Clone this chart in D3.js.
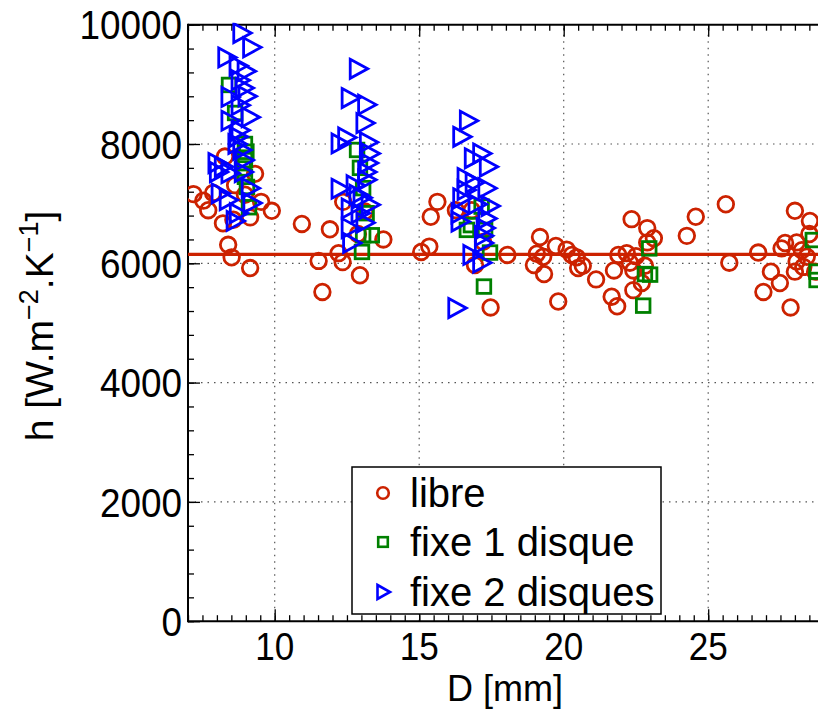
<!DOCTYPE html>
<html><head><meta charset="utf-8">
<script src="https://cdn.jsdelivr.net/npm/d3@7"></script>
<style>body{margin:0;background:#fff;} svg{display:block;}</style>
</head><body>
<svg id="chart" width="818" height="709"></svg>
<script>
// ---- data ----
const libreD = [7.19,7.53,7.70,8.28,9.32,8.63,8.21,8.57,9.15,9.53,9.90,8.39,8.51,9.15,10.94,11.91,11.52,11.65,12.21,12.35,12.95,12.37,13.12,13.76,15.07,15.35,15.63,15.40,16.27,16.93,17.47,18.05,19.18,19.07,19.29,18.97,19.32,19.73,20.10,20.28,20.45,20.50,20.66,19.81,21.12,21.66,21.85,21.74,21.89,22.18,22.50,22.29,22.35,22.89,23.12,22.89,22.81,22.41,22.70,22.41,24.26,24.57,25.61,25.73,26.73,28.00,28.52,28.50,27.54,27.66,28.06,28.24,27.17,27.48,26.91,27.85,28.00,28.06,28.29,28.41,28.70,8.97,7.87,12.88,17.21,16.82];
const libreH = [7160,7050,6890,7790,7500,7310,6670,6730,6770,7030,6880,6310,6100,5920,6660,6570,6040,5520,6170,6020,5800,7030,6870,6400,6190,6280,7030,6780,6890,5970,5260,6140,6440,6160,6110,5970,5820,6290,6230,6140,6100,5920,5960,5360,5730,5440,5280,5880,6140,6170,6120,6010,6740,6590,6420,6350,5960,5880,5670,5550,6460,6780,6990,6010,6180,6880,6710,6490,6250,6340,6350,6220,5860,5670,5520,5260,5860,6030,5940,6110,5860,7150,7180,6490,6360,6890];
const fixe1D = [8.42,8.63,8.97,9.02,8.97,8.92,8.97,9.04,9.11,12.85,12.95,13.06,13.18,13.06,13.36,13.02,16.65,16.79,17.16,17.28,17.45,17.24,22.96,22.81,22.99,22.75,28.62,28.75,28.75];
const fixe1H = [8990,8520,8000,7870,7730,7590,7450,7280,6940,7900,7600,7260,6840,6470,6470,6190,6560,6640,6950,6560,6180,5610,6250,5820,5810,5290,6390,5860,5720];
const fixe2D = [8.86,9.20,8.34,8.73,9.01,8.80,8.94,9.04,8.45,8.80,9.15,8.45,8.80,8.73,8.69,8.86,8.00,8.22,8.45,8.91,8.05,8.11,9.15,8.39,9.21,8.74,8.63,8.94,
  12.89,12.61,13.18,13.12,12.49,12.26,13.24,13.30,13.24,13.18,13.18,12.26,12.88,13.30,12.61,12.95,13.12,12.61,12.66,12.78,13.02,
  16.70,16.47,17.16,16.87,17.39,16.62,16.90,17.34,16.62,16.47,17.45,17.00,16.41,17.34,16.41,17.28,17.22,17.22,16.82,17.16,16.30];
const fixe2H = [9860,9620,9450,9310,9220,9070,8940,8800,8790,8650,8450,8390,8230,8120,8000,7900,7680,7620,7510,7530,7530,7170,7260,7060,7010,6840,6710,7730,
  9260,8770,8660,8350,8110,8010,8030,7840,7680,7530,7400,7250,7150,6980,6920,6840,6680,6590,6340,7310,7100,
  8390,8120,7840,7760,7620,7430,7350,7260,7230,7090,6960,6990,6840,6750,6700,6590,6460,6340,6140,6010,5250];
const meanH = 6150;
const xTicks = [10,15,20,25];
const yTicks = [0,2000,4000,6000,8000,10000];
const legendLabels = ["libre","fixe 1 disque","fixe 2 disques"];
const colors = {libre:"#cc2200", fixe1:"#008000", fixe2:"#0000ff"};

// ---- layout ----
const svg = d3.select("#chart");
const x = d3.scaleLinear().domain([7,29]).range([188, 188 + 22*28.9]);
const y = d3.scaleLinear().domain([0,10000]).range([621.2, 24.7]);
const X0 = x(7), Y0 = y(0), Y1 = y(10000), XR = x(29);

svg.append("defs").append("clipPath").attr("id","clip")
  .append("rect").attr("x",X0).attr("y",Y1-2).attr("width",XR-X0).attr("height",Y0-Y1+2);

// grid
const grid = svg.append("g");
xTicks.forEach(t => grid.append("line").attr("x1",x(t)).attr("x2",x(t)).attr("y1",Y0).attr("y2",Y1)
  .attr("stroke","#555").attr("stroke-width",1.2).attr("stroke-dasharray","1.5,5"));
yTicks.filter(t=>t>0&&t<10000).forEach(t => grid.append("line").attr("x1",X0).attr("x2",XR).attr("y1",y(t)).attr("y2",y(t))
  .attr("stroke","#555").attr("stroke-width",1.2).attr("stroke-dasharray","1.5,5"));

// axes (ticks inside)
const minorX = d3.range(7,29.01,0.5);
const minorY = d3.range(0,10001,400);
function styleAxis(g){ g.select(".domain").remove(); g.selectAll("line").attr("stroke","#000").attr("stroke-width",1.3); g.selectAll("text").remove(); }
svg.append("g").attr("transform",`translate(0,${Y0})`).call(d3.axisBottom(x).tickValues(minorX).tickSize(-6).tickFormat("")).call(styleAxis);
svg.append("g").attr("transform",`translate(0,${Y0})`).call(d3.axisBottom(x).tickValues(xTicks).tickSize(-12).tickFormat("")).call(styleAxis);
svg.append("g").attr("transform",`translate(0,${Y1})`).call(d3.axisTop(x).tickValues(minorX).tickSize(-6).tickFormat("")).call(styleAxis);
svg.append("g").attr("transform",`translate(0,${Y1})`).call(d3.axisTop(x).tickValues(xTicks).tickSize(-12).tickFormat("")).call(styleAxis);
svg.append("g").attr("transform",`translate(${X0},0)`).call(d3.axisLeft(y).tickValues(minorY).tickSize(-6).tickFormat("")).call(styleAxis);
svg.append("g").attr("transform",`translate(${X0},0)`).call(d3.axisLeft(y).tickValues(yTicks).tickSize(-12).tickFormat("")).call(styleAxis);
// box lines
svg.append("line").attr("x1",X0).attr("x2",XR).attr("y1",Y0).attr("y2",Y0).attr("stroke","#000").attr("stroke-width",2);
svg.append("line").attr("x1",X0).attr("x2",XR).attr("y1",Y1).attr("y2",Y1).attr("stroke","#000").attr("stroke-width",2);
svg.append("line").attr("x1",X0).attr("x2",X0).attr("y1",Y0+1).attr("y2",Y1-1).attr("stroke","#000").attr("stroke-width",2);

// tick labels
const font = "'Liberation Sans', Arial, Helvetica, sans-serif";
xTicks.forEach(t => svg.append("text").attr("transform",`translate(${x(t)},660) scale(0.9,1)`)
  .attr("text-anchor","middle").attr("font-family",font).attr("font-size",39).text(t));
yTicks.forEach(t => svg.append("text").attr("transform",`translate(182,${y(t)}) scale(0.9,1)`)
  .attr("text-anchor","end").attr("dy","0.36em").attr("font-family",font).attr("font-size",41).text(t));

// axis labels
svg.append("text").attr("x",505).attr("y",701).attr("text-anchor","middle")
  .attr("font-family",font).attr("font-size",36).text("D [mm]");
const yl = svg.append("text").attr("transform","translate(53,326) rotate(-90)").attr("text-anchor","middle")
  .attr("font-family",font).attr("font-size",39);
yl.append("tspan").text("h [W.m");
yl.append("tspan").attr("font-size",27).attr("dy",-15).text("\u22122");
yl.append("tspan").attr("dy",15).text(".K");
yl.append("tspan").attr("font-size",27).attr("dy",-15).text("\u22121");
yl.append("tspan").attr("dy",15).text("]");

// data
const plot = svg.append("g").attr("clip-path","url(#clip)");
plot.append("line").attr("x1",X0).attr("x2",XR).attr("y1",y(meanH)).attr("y2",y(meanH))
  .attr("stroke",colors.libre).attr("stroke-width",3.2);
plot.append("g").selectAll("circle").data(libreD.map((d,i)=>[d,libreH[i]])).join("circle")
  .attr("cx",d=>x(d[0])).attr("cy",d=>y(d[1])).attr("r",7.8)
  .attr("fill","none").attr("stroke",colors.libre).attr("stroke-width",2.8);
plot.append("g").selectAll("rect").data(fixe1D.map((d,i)=>[d,fixe1H[i]])).join("rect")
  .attr("x",d=>x(d[0])-6.8).attr("y",d=>y(d[1])-6.8).attr("width",13.6).attr("height",13.6)
  .attr("fill","none").attr("stroke",colors.fixe1).attr("stroke-width",2.8);
const tri = "M-8,-9.5L9.5,0L-8,9.5Z";
plot.append("g").selectAll("path").data(fixe2D.map((d,i)=>[d,fixe2H[i]])).join("path")
  .attr("d",tri).attr("transform",d=>`translate(${x(d[0])},${y(d[1])})`)
  .attr("fill","none").attr("stroke",colors.fixe2).attr("stroke-width",2.8).attr("stroke-linejoin","miter");

// legend
const lg = svg.append("g");
lg.append("rect").attr("x",352).attr("y",467).attr("width",309).attr("height",147)
  .attr("fill","#fff").attr("stroke","#000").attr("stroke-width",1.5);
const rows = [493,542,592];
lg.append("circle").attr("cx",383).attr("cy",rows[0]).attr("r",5.8).attr("fill","none").attr("stroke",colors.libre).attr("stroke-width",2.6);
lg.append("rect").attr("x",383-4.8).attr("y",rows[1]-4.8).attr("width",9.6).attr("height",9.6).attr("fill","none").attr("stroke",colors.fixe1).attr("stroke-width",2.6);
lg.append("path").attr("d","M-5.5,-7L7,0L-5.5,7Z").attr("transform",`translate(383,${rows[2]})`).attr("fill","none").attr("stroke",colors.fixe2).attr("stroke-width",2.6);
legendLabels.forEach((l,i)=> lg.append("text").attr("x",410).attr("y",rows[i]).attr("dy","0.36em")
  .attr("font-family",font).attr("font-size",40).text(l));
</script>
</body></html>
